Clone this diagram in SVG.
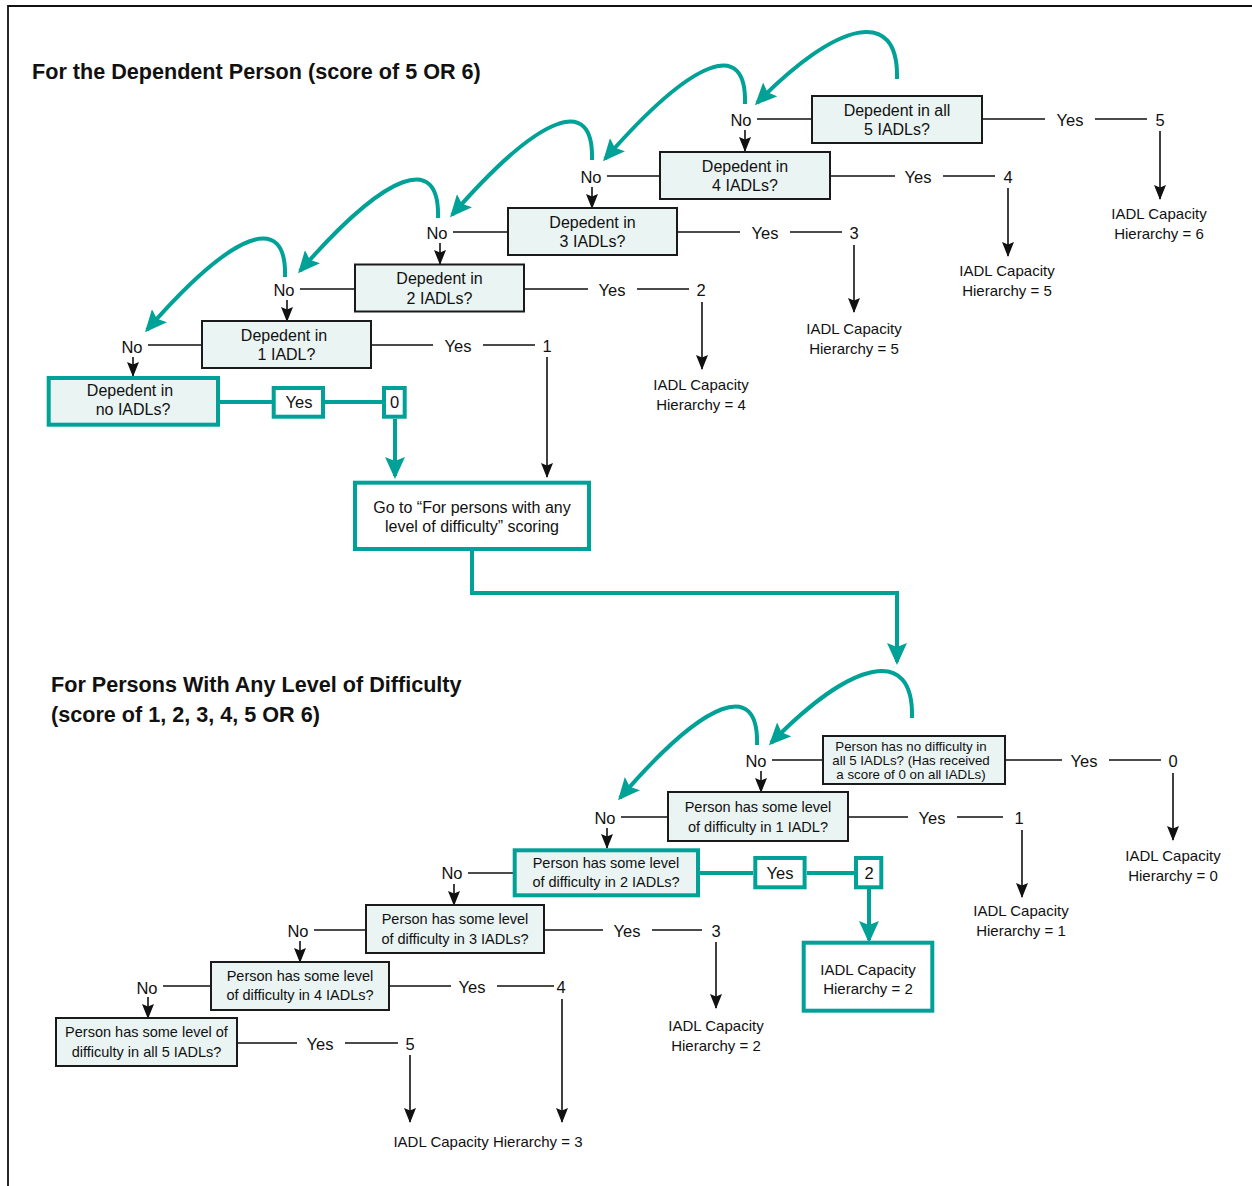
<svg xmlns="http://www.w3.org/2000/svg" width="1252" height="1186" viewBox="0 0 1252 1186">
  <style>
    text { font-family: "Liberation Sans", Arial, sans-serif; fill: #111; text-anchor: middle; }
    .title { font-size: 21.6px; font-weight: bold; text-anchor: start; }
    .bt { font-size: 16px; }
    .bs { font-size: 14.5px; }
    .bx { font-size: 13.3px; }
    .lb { font-size: 16.5px; }
    .res { font-size: 15px; }
    .box { fill: #EAF4F3; stroke: #1a1a1a; stroke-width: 2; }
    .tbox { fill: #EAF4F3; stroke: #00A297; stroke-width: 4; }
    .wbox { fill: #ffffff; stroke: #00A297; stroke-width: 4; }
    .ln { fill: none; stroke: #111; stroke-width: 1.6; }
    .arr { fill: none; stroke: #111; stroke-width: 1.6; marker-end: url(#ab); }
    .tl { fill: none; stroke: #00A297; stroke-width: 4; }
    .tarr { fill: none; stroke: #00A297; stroke-width: 4; marker-end: url(#at); }
    .frame { fill: none; stroke: #111; stroke-width: 1.8; }
  </style>
  <defs>
    <marker id="ab" markerUnits="userSpaceOnUse" markerWidth="15" markerHeight="12" viewBox="0 0 15 12" refX="14" refY="6" orient="auto">
      <path d="M0,0 L15,6 L0,12 L2.5,6 z" fill="#111"/>
    </marker>
    <marker id="at" markerUnits="userSpaceOnUse" markerWidth="22" markerHeight="20" viewBox="0 0 22 20" refX="19" refY="10" orient="auto">
      <path d="M0,0 L22,10 L0,20 L4,10 z" fill="#00A297"/>
    </marker>
  </defs>

  <!-- page frame -->
  <path class="frame" d="M8,1186 V6 H1252"/>

  <!-- section headings -->
  <text class="title" x="32" y="79">For the Dependent Person (score of 5 OR 6)</text>
  <text class="title" x="51" y="692">For Persons With Any Level of Difficulty</text>
  <text class="title" x="51" y="722">(score of 1, 2, 3, 4, 5 OR 6)</text>

  <!-- connectors -->
  <g id="connectors">
    <!-- dependent section: No branches -->
    <path class="ln" d="M757,119 H812"/>
    <path class="ln" d="M607,176 H660"/>
    <path class="ln" d="M453,232 H508"/>
    <path class="ln" d="M300,289 H355"/>
    <path class="ln" d="M148,345 H202"/>
    <path class="arr" d="M745,130 V151"/>
    <path class="arr" d="M592,187 V208"/>
    <path class="arr" d="M440,243 V264"/>
    <path class="arr" d="M287,300 V321"/>
    <path class="arr" d="M133,357 V376"/>
    <!-- dependent section: Yes branches -->
    <path class="ln" d="M982,119 H1045 M1095,119 H1147"/>
    <path class="arr" d="M1160,131 V199"/>
    <path class="ln" d="M830,176 H895 M943,176 H995"/>
    <path class="arr" d="M1008,188 V256"/>
    <path class="ln" d="M677,232 H740 M790,232 H842"/>
    <path class="arr" d="M854,245 V312"/>
    <path class="ln" d="M524,289 H588 M637,289 H689"/>
    <path class="arr" d="M702,302 V369"/>
    <path class="ln" d="M371,345 H433 M483,345 H535"/>
    <path class="arr" d="M547,357 V477"/>
    <!-- dependent section: teal path -->
    <path class="tl" d="M220,402 H272 M325,402 H382"/>
    <path class="tarr" d="M395,419 V476"/>
    <path class="tarr" d="M472,551 V593 H897 V662"/>
    <!-- dependent section: loop-back curves -->
    <path class="tarr" d="M897,79 C899,6 837,21 757,103"/>
    <path class="tarr" d="M745,104 C747,39 695,56 605,159"/>
    <path class="tarr" d="M592,160 C594,95 542,112 452,215"/>
    <path class="tarr" d="M438,218 C440,153 388,170 300,271"/>
    <path class="tarr" d="M285,277 C287,212 235,229 147,330"/>

    <!-- difficulty section: No branches -->
    <path class="ln" d="M772,760 H823"/>
    <path class="ln" d="M621,817 H668"/>
    <path class="ln" d="M468,873 H513"/>
    <path class="ln" d="M314,930 H366"/>
    <path class="ln" d="M163,986 H211"/>
    <path class="arr" d="M761,771 V792"/>
    <path class="arr" d="M607,828 V848"/>
    <path class="arr" d="M454,884 V905"/>
    <path class="arr" d="M300,941 V962"/>
    <path class="arr" d="M148,997 V1018"/>
    <!-- difficulty section: Yes branches -->
    <path class="ln" d="M1005,760 H1062 M1109,760 H1161"/>
    <path class="arr" d="M1173,773 V840"/>
    <path class="ln" d="M848,817 H908 M957,817 H1003"/>
    <path class="arr" d="M1022,830 V897"/>
    <path class="ln" d="M544,930 H603 M652,930 H702"/>
    <path class="arr" d="M716,942 V1008"/>
    <path class="ln" d="M389,986 H451 M497,986 H554"/>
    <path class="arr" d="M562,999 V1122"/>
    <path class="ln" d="M237,1043 H297 M345,1043 H398"/>
    <path class="arr" d="M410,1055 V1122"/>
    <!-- difficulty section: teal path -->
    <path class="tl" d="M700,873 H753 M807,873 H854"/>
    <path class="tarr" d="M869,889 V940"/>
    <!-- difficulty section: loop-back curves -->
    <path class="tarr" d="M912,718 C914,645 852,660 771,743"/>
    <path class="tarr" d="M757,745 C759,680 707,697 620,798"/>
  </g>

  <!-- branch labels -->
  <g id="labels" class="lb">
    <text x="741" y="126">No</text>
    <text x="591" y="183">No</text>
    <text x="437" y="239">No</text>
    <text x="284" y="296">No</text>
    <text x="132" y="353">No</text>
    <text x="1070" y="126">Yes</text>
    <text x="918" y="183">Yes</text>
    <text x="765" y="239">Yes</text>
    <text x="612" y="296">Yes</text>
    <text x="458" y="352">Yes</text>
    <text x="1160" y="126">5</text>
    <text x="1008" y="183">4</text>
    <text x="854" y="239">3</text>
    <text x="701" y="296">2</text>
    <text x="547" y="352">1</text>

    <text x="756" y="767">No</text>
    <text x="605" y="824">No</text>
    <text x="452" y="879">No</text>
    <text x="298" y="937">No</text>
    <text x="147" y="994">No</text>
    <text x="1084" y="767">Yes</text>
    <text x="932" y="824">Yes</text>
    <text x="627" y="937">Yes</text>
    <text x="472" y="993">Yes</text>
    <text x="320" y="1050">Yes</text>
    <text x="1173" y="767">0</text>
    <text x="1019" y="824">1</text>
    <text x="716" y="937">3</text>
    <text x="561" y="993">4</text>
    <text x="410" y="1050">5</text>
  </g>

  <!-- results -->
  <g id="results" class="res">
    <text x="1159" y="219">IADL Capacity</text><text x="1159" y="239">Hierarchy = 6</text>
    <text x="1007" y="276">IADL Capacity</text><text x="1007" y="296">Hierarchy = 5</text>
    <text x="854" y="334">IADL Capacity</text><text x="854" y="354">Hierarchy = 5</text>
    <text x="701" y="390">IADL Capacity</text><text x="701" y="410">Hierarchy = 4</text>
    <text x="1173" y="861">IADL Capacity</text><text x="1173" y="881">Hierarchy = 0</text>
    <text x="1021" y="916">IADL Capacity</text><text x="1021" y="936">Hierarchy = 1</text>
    <text x="716" y="1031">IADL Capacity</text><text x="716" y="1051">Hierarchy = 2</text>
    <text x="488" y="1147">IADL Capacity Hierarchy = 3</text>
  </g>

  <!-- dependent section nodes -->
  <g id="dep5"><rect class="box" x="812" y="96" width="170" height="47"/>
    <text class="bt" x="897" y="115.5">Depedent in all</text><text class="bt" x="897" y="135">5 IADLs?</text></g>
  <g id="dep4"><rect class="box" x="660" y="152" width="170" height="47"/>
    <text class="bt" x="745" y="171.5">Depedent in</text><text class="bt" x="745" y="191">4 IADLs?</text></g>
  <g id="dep3"><rect class="box" x="508" y="208" width="169" height="47"/>
    <text class="bt" x="592.5" y="227.5">Depedent in</text><text class="bt" x="592.5" y="247">3 IADLs?</text></g>
  <g id="dep2"><rect class="box" x="355" y="264.5" width="169" height="47"/>
    <text class="bt" x="439.5" y="284">Depedent in</text><text class="bt" x="439.5" y="303.5">2 IADLs?</text></g>
  <g id="dep1"><rect class="box" x="202" y="321" width="169" height="47"/>
    <text class="bt" x="284" y="340.5">Depedent in</text><text class="bt" x="286.5" y="360">1 IADL?</text></g>
  <g id="dep0"><rect class="tbox" x="48.7" y="378" width="169.3" height="46.7"/>
    <text class="bt" x="130" y="396">Depedent in</text><text class="bt" x="133" y="415">no IADLs?</text></g>
  <g id="dep0-yes"><rect class="wbox" x="273.7" y="388" width="49.3" height="28.7"/>
    <text class="lb" x="299" y="408">Yes</text></g>
  <g id="dep0-score"><rect class="wbox" x="384" y="388" width="20.7" height="28.7"/>
    <text class="lb" x="394.5" y="408">0</text></g>
  <g id="goto"><rect class="wbox" x="355" y="482.7" width="234" height="66.3"/>
    <text class="bt" x="472" y="513">Go to “For persons with any</text><text class="bt" x="472" y="532">level of difficulty” scoring</text></g>

  <!-- difficulty section nodes -->
  <g id="dif0"><rect class="box" x="823" y="736" width="182" height="48"/>
    <text class="bx" x="911" y="751">Person has no difficulty in</text>
    <text class="bx" x="911" y="765">all 5 IADLs? (Has received</text>
    <text class="bx" x="911" y="779">a score of 0 on all IADLs)</text></g>
  <g id="dif1"><rect class="box" x="668" y="792" width="180" height="49"/>
    <text class="bs" x="758" y="811.5">Person has some level</text><text class="bs" x="758" y="831.5">of difficulty in 1 IADL?</text></g>
  <g id="dif2"><rect class="tbox" x="514.7" y="850.3" width="183.3" height="45"/>
    <text class="bs" x="606" y="868">Person has some level</text><text class="bs" x="606" y="887">of difficulty in 2 IADLs?</text></g>
  <g id="dif2-yes"><rect class="wbox" x="755.3" y="858" width="49.3" height="29.3"/>
    <text class="lb" x="780" y="879">Yes</text></g>
  <g id="dif2-score"><rect class="wbox" x="856" y="858" width="25.3" height="29.3"/>
    <text class="lb" x="869" y="879">2</text></g>
  <g id="dif2-result"><rect class="wbox" x="803.7" y="942.7" width="128.6" height="68"/>
    <text class="res" x="868" y="975">IADL Capacity</text><text class="res" x="868" y="994">Hierarchy = 2</text></g>
  <g id="dif3"><rect class="box" x="366" y="905" width="178" height="48"/>
    <text class="bs" x="455" y="924">Person has some level</text><text class="bs" x="455" y="944">of difficulty in 3 IADLs?</text></g>
  <g id="dif4"><rect class="box" x="211" y="962" width="178" height="48"/>
    <text class="bs" x="300" y="981">Person has some level</text><text class="bs" x="300" y="1000">of difficulty in 4 IADLs?</text></g>
  <g id="dif5"><rect class="box" x="56" y="1018" width="181" height="48"/>
    <text class="bs" x="146.5" y="1037">Person has some level of</text><text class="bs" x="146.5" y="1057">difficulty in all 5 IADLs?</text></g>
</svg>
